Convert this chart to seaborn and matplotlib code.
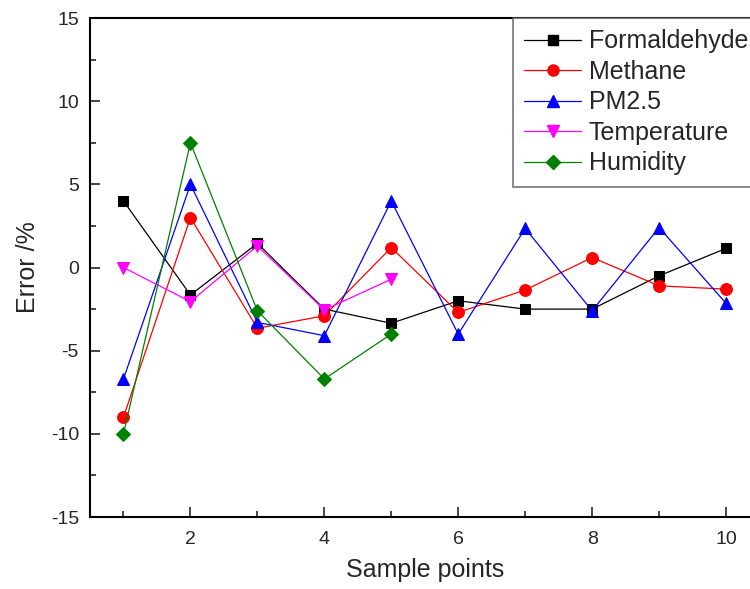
import pandas as pd
import numpy as np
import matplotlib
matplotlib.use('Agg')
import matplotlib.pyplot as plt
import seaborn as sns
from matplotlib.ticker import MultipleLocator, AutoMinorLocator
from matplotlib.lines import Line2D

# values
points = [1, 2, 3, 4, 5, 6, 7, 8, 9, 10]
formaldehyde = [4.0, -1.65, 1.45, -2.5, -3.35, -2.0, -2.5, -2.5, -0.5, 1.15]
methane = [-9.0, 3.0, -3.65, -2.9, 1.2, -2.7, -1.35, 0.6, -1.1, -1.3]
pm25 = [-6.7, 5.0, -3.3, -4.1, 4.0, -4.0, 2.35, -2.6, 2.4, -2.15]
temperature = [0.0, -2.05, 1.3, -2.55, -0.7]
humidity = [-10.0, 7.5, -2.6, -6.7, -4.0]

series = {
    'Formaldehyde': formaldehyde,
    'Methane': methane,
    'PM2.5': pm25,
    'Temperature': temperature,
    'Humidity': humidity,
}
colors = {'Formaldehyde': 'black', 'Methane': 'red', 'PM2.5': 'blue',
          'Temperature': 'magenta', 'Humidity': 'green'}
marks = {'Formaldehyde': 's', 'Methane': 'o', 'PM2.5': '^',
         'Temperature': 'v', 'Humidity': 'D'}
msizes = {'Formaldehyde': 7.5, 'Methane': 8.5, 'PM2.5': 9,
          'Temperature': 9, 'Humidity': 7.5}

rows = []
for name, vals in series.items():
    for x, v in zip(points, vals):
        rows.append({'Sample points': x, 'Error': v, 'Sensor': name})
df = pd.DataFrame(rows)

sns.set_style('white')
plt.rcParams['font.family'] = ['Liberation Sans', 'DejaVu Sans']
plt.rcParams['axes.unicode_minus'] = False

fig = plt.figure(figsize=(7.5, 5.89), dpi=100)
# axes run past the right edge of the figure, like in the reference
ax = fig.add_axes([0.12, 0.1222, 0.8927, 0.8472])

for name in series:
    sub = df[df['Sensor'] == name]
    sns.lineplot(data=sub, x='Sample points', y='Error', ax=ax,
                 color=colors[name], marker=marks[name], markersize=msizes[name],
                 markeredgecolor=colors[name], linewidth=0.9, legend=False)

ax.set_xlim(0.5, 10.5)
ax.set_ylim(-15, 15)
ax.xaxis.set_major_locator(MultipleLocator(2))
ax.xaxis.set_minor_locator(AutoMinorLocator(2))
ax.yaxis.set_major_locator(MultipleLocator(5))
ax.yaxis.set_minor_locator(AutoMinorLocator(2))
ax.tick_params(which='both', direction='in', top=False, right=False,
               left=True, bottom=True, width=1.2, labelsize=14)
ax.tick_params(axis='x', which='major', pad=10)
ax.tick_params(axis='y', which='major', pad=8)
ax.tick_params(which='major', length=7)
ax.tick_params(which='minor', length=4)
for sp in ax.spines.values():
    sp.set_linewidth(1.5)
    sp.set_color('black')

ax.set_xlabel('Sample points', fontsize=18, labelpad=7)
ax.set_ylabel('Error /%', fontsize=18, labelpad=8)

handles = [Line2D([0], [0], color=colors[n], marker=marks[n], markersize=msizes[n] - 0.5,
                  linewidth=0.9) for n in series]
leg = ax.legend(handles, list(series.keys()), loc='upper right', fontsize=18,
                frameon=True, fancybox=False, borderaxespad=0, handlelength=2.3,
                handletextpad=0.3, labelspacing=0.26, borderpad=0.45)
leg.get_frame().set_edgecolor('#555555')
leg.get_frame().set_linewidth(1.2)

fig.savefig('out.png', dpi=100)
